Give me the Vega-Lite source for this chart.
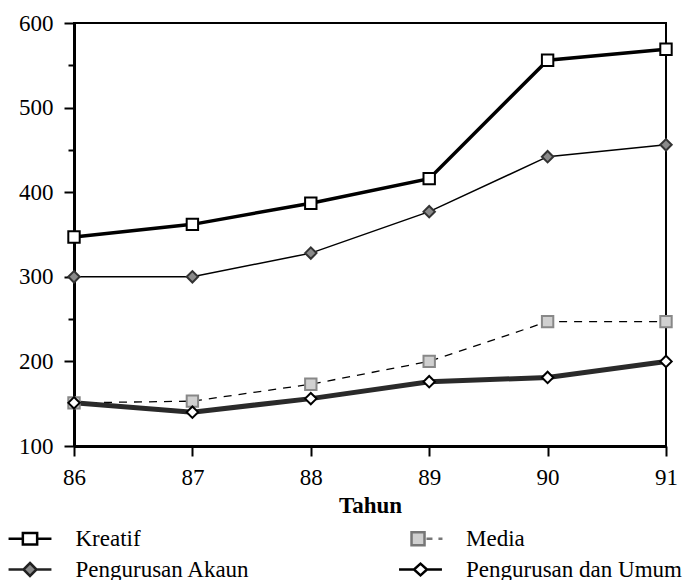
{
  "$schema": "https://vega.github.io/schema/vega-lite/v6.json",
  "autosize": "none",
  "width": 592,
  "height": 423,
  "padding": {"left": 74, "top": 23, "right": 28, "bottom": 134},
  "background": "white",
  "config": {
    "view": {"stroke": "black", "strokeWidth": 2},
    "font": "Liberation Serif",
    "axis": {
      "labelFont": "Liberation Serif",
      "titleFont": "Liberation Serif",
      "labelColor": "black",
      "titleColor": "black",
      "domainColor": "black",
      "tickColor": "black",
      "grid": false,
      "domainWidth": 3,
      "tickWidth": 2,
      "labelFontSize": 23
    },
    "legend": {"labelFont": "Liberation Serif"}
  },
  "data": {
    "values": [
      {"year": 86, "series": "Kreatif", "value": 347},
      {"year": 87, "series": "Kreatif", "value": 362},
      {"year": 88, "series": "Kreatif", "value": 387},
      {"year": 89, "series": "Kreatif", "value": 416},
      {"year": 90, "series": "Kreatif", "value": 556},
      {"year": 91, "series": "Kreatif", "value": 569},
      {"year": 86, "series": "Pengurusan Akaun", "value": 300},
      {"year": 87, "series": "Pengurusan Akaun", "value": 300},
      {"year": 88, "series": "Pengurusan Akaun", "value": 328},
      {"year": 89, "series": "Pengurusan Akaun", "value": 377},
      {"year": 90, "series": "Pengurusan Akaun", "value": 442},
      {"year": 91, "series": "Pengurusan Akaun", "value": 456},
      {"year": 86, "series": "Media", "value": 151},
      {"year": 87, "series": "Media", "value": 153},
      {"year": 88, "series": "Media", "value": 173},
      {"year": 89, "series": "Media", "value": 200},
      {"year": 90, "series": "Media", "value": 247},
      {"year": 91, "series": "Media", "value": 247},
      {"year": 86, "series": "Pengurusan dan Umum", "value": 151},
      {"year": 87, "series": "Pengurusan dan Umum", "value": 140},
      {"year": 88, "series": "Pengurusan dan Umum", "value": 156},
      {"year": 89, "series": "Pengurusan dan Umum", "value": 176},
      {"year": 90, "series": "Pengurusan dan Umum", "value": 181},
      {"year": 91, "series": "Pengurusan dan Umum", "value": 200}
    ]
  },
  "encoding": {
    "x": {
      "field": "year", "type": "quantitative",
      "scale": {"domain": [86, 91], "nice": false, "zero": false},
      "axis": {
        "values": [86, 87, 88, 89, 90, 91], "format": "d",
        "title": "Tahun", "titleFontSize": 23, "titleFontWeight": "bold",
        "titleBaseline": "alphabetic", "titleY": 66,
        "tickSize": 10, "labelPadding": 10, "labelBaseline": "top",
        "labelFlush": false
      }
    },
    "y": {
      "field": "value", "type": "quantitative",
      "scale": {"domain": [100, 600], "nice": false, "zero": false},
      "axis": {
        "values": [100, 150, 200, 250, 300, 350, 400, 450, 500, 550, 600],
        "labelExpr": "datum.value % 100 === 0 ? datum.label : ''",
        "tickSize": {"condition": {"test": "datum.value % 100 === 0", "value": 10}, "value": 6},
        "labelPadding": 11, "title": null, "labelFlush": false
      }
    }
  },
  "resolve": {"scale": {"shape": "independent", "fill": "independent", "stroke": "independent"}},
  "layer": [
    {
      "transform": [{"filter": "datum.series === 'Kreatif'"}],
      "mark": {"type": "line", "color": "black", "strokeWidth": 3.5},
      "encoding": {}
    },
    {
      "transform": [{"filter": "datum.series === 'Pengurusan Akaun'"}],
      "mark": {"type": "line", "color": "black", "strokeWidth": 1.5},
      "encoding": {}
    },
    {
      "transform": [{"filter": "datum.series === 'Media'"}],
      "mark": {"type": "line", "color": "black", "strokeWidth": 1.3, "strokeDash": [8, 7]},
      "encoding": {}
    },
    {
      "transform": [{"filter": "datum.series === 'Pengurusan dan Umum'"}],
      "mark": {"type": "line", "color": "#2a2a2a", "strokeWidth": 5},
      "encoding": {}
    },
    {
      "mark": {"type": "point", "filled": true, "opacity": 1, "strokeWidth": 2, "size": 130},
      "encoding": {
        "shape": {
          "field": "series", "type": "nominal",
          "scale": {
            "domain": ["Kreatif", "Pengurusan Akaun", "Media", "Pengurusan dan Umum"],
            "range": ["square", "diamond", "square", "diamond"]
          },
          "legend": null
        },
        "fill": {
          "field": "series", "type": "nominal",
          "scale": {
            "domain": ["Kreatif", "Pengurusan Akaun", "Media", "Pengurusan dan Umum"],
            "range": ["white", "#8a8a8a", "#d0d0d0", "white"]
          },
          "legend": null
        },
        "stroke": {
          "field": "series", "type": "nominal",
          "scale": {
            "domain": ["Kreatif", "Pengurusan Akaun", "Media", "Pengurusan dan Umum"],
            "range": ["black", "#333333", "#888888", "black"]
          },
          "legend": null
        }
      }
    },
    {
      "mark": {"type": "point", "filled": true, "opacity": 0, "strokeWidth": 2, "size": 130},
      "encoding": {
        "shape": {
          "field": "series", "type": "nominal",
          "scale": {
            "domain": ["Kreatif", "Pengurusan Akaun", "Media", "Pengurusan dan Umum"],
            "range": [
              "M-1.65,0H-0.55M0.55,0H1.65M-0.55,-0.45H0.55V0.45H-0.55Z",
              "M-1.65,0H-0.5M0.5,0H1.65M0,-0.5L0.5,0L0,0.5L-0.5,0Z",
              "M-0.69,-0.5H0.31V0.5H-0.69ZM0.46,0H0.92M1.38,0H1.69",
              "M-1.65,0H-0.5M0.5,0H1.65M0,-0.45L0.5,0L0,0.45L-0.5,0Z"
            ]
          },
          "legend": {
            "title": null, "orient": "none", "legendX": -58.5, "legendY": 501,
            "columns": 2, "columnPadding": 143.5, "rowPadding": 4,
            "labelFontSize": 23, "labelColor": "black", "labelLimit": 400,
            "symbolSize": 676, "labelOffset": 31, "padding": 0,
            "symbolOpacity": 1, "symbolStrokeWidth": 2.5
          }
        },
        "fill": {
          "field": "series", "type": "nominal",
          "scale": {
            "domain": ["Kreatif", "Pengurusan Akaun", "Media", "Pengurusan dan Umum"],
            "range": ["white", "#8a8a8a", "#d0d0d0", "white"]
          },
          "legend": {"title": null}
        },
        "stroke": {
          "field": "series", "type": "nominal",
          "scale": {
            "domain": ["Kreatif", "Pengurusan Akaun", "Media", "Pengurusan dan Umum"],
            "range": ["black", "#222222", "#777777", "black"]
          },
          "legend": {"title": null}
        }
      }
    }
  ]
}
